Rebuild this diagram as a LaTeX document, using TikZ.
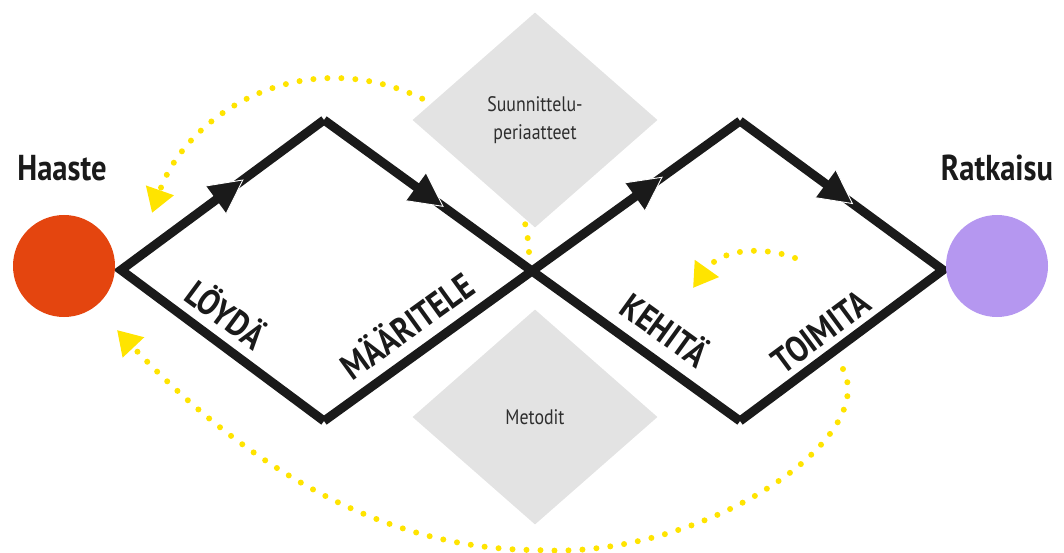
\documentclass[tikz,border=0pt]{standalone}
\usepackage{fontspec}
\setmainfont{PT Sans}
\newfontfamily\condfont[FakeStretch=0.85]{PT Sans}
\usetikzlibrary{shapes.geometric,arrows.meta,decorations.markings}

\definecolor{flowblack}{HTML}{1A1A1A}
\definecolor{loopyellow}{HTML}{FFE400}
\definecolor{panelgray}{HTML}{E3E3E3}
\definecolor{paneltext}{HTML}{2E2E2E}
\definecolor{startred}{HTML}{E4450F}
\definecolor{endviolet}{HTML}{B597F0}

\begin{document}
\begin{tikzpicture}[x=1pt,y=-1pt,
  flow/.style={draw=flowblack, line width=9pt, line cap=butt, line join=miter},
  flowtip/.style={decoration={markings, mark=at position #1 with {
      \fill[flowblack] (0,0) -- (-33,17) -- (-33,-17) -- cycle;
      \draw[white, line width=0.9pt] (-33,17) -- (0,0) -- (-33,-17);}},
    decorate},
  feedback/.style={draw=loopyellow, line width=6pt, line cap=round,
    dash pattern=on 0pt off 14pt, -{Triangle[length=24pt,width=28pt]}},
  panel/.style={diamond, fill=panelgray, minimum width=245pt, minimum height=215pt,
    inner sep=0pt, align=center, text=paneltext,
    font=\condfont\fontsize{21}{28}\selectfont},
  endpoint/.style={circle, minimum size=102pt, inner sep=0pt},
  title/.style={font=\condfont\bfseries\fontsize{36}{40}\selectfont, text=flowblack, inner sep=0pt},
  phase/.style={font=\condfont\bfseries\fontsize{36}{38}\selectfont, text=flowblack, inner sep=0pt}
]
\useasboundingbox (0,0) rectangle (1064,553);

% corners of the double diamond
\coordinate (L)  at (121,270);
\coordinate (T1) at (324,120);
\coordinate (C)  at (532,271);
\coordinate (B1) at (324,421);
\coordinate (T2) at (740,121);
\coordinate (B2) at (740,421);
\coordinate (R)  at (943,270);

% ends of the feedback loops
\coordinate (fbTopStart)   at (529,252);
\coordinate (fbTopPeak)    at (334,78);
\coordinate (fbTopEnd)     at (152,213);
\coordinate (fbLowStart)   at (843,369);
\coordinate (fbLowMid)     at (537,550);
\coordinate (fbLowEnd)     at (117,330);
\coordinate (fbSmallStart) at (795,258);
\coordinate (fbSmallEnd)   at (693,288);

% dotted feedback loops
\draw[feedback] (fbTopStart) .. controls (524,153) and (432,78) .. (fbTopPeak)
                             .. controls (250,78) and (180,133) .. (fbTopEnd);
\draw[feedback] (fbLowStart) .. controls (880,440) and (700,560) .. (fbLowMid)
                             .. controls (370,550) and (230,450) .. (fbLowEnd);
\draw[feedback] (fbSmallStart) .. controls (760,245) and (720,250) .. (fbSmallEnd);

% grey panels
\node[panel] (principles) at (535,120) {Suunnittelu-\\periaatteet};
\node[panel] (methods) at (535,417) {Metodit};

% double diamond
\draw[flow] (T1) -- (L) -- (B1);
\draw[flow] (T2) -- (R) -- (B2);
\draw[flow] (B1) -- (C) -- (T2);
\draw[flow] (T1) -- (C) -- (B2);
\path[flowtip=0.6]   (L)  -- (T1);
\path[flowtip=0.572] (T1) -- (C);
\path[flowtip=0.625] (C)  -- (T2);
\path[flowtip=0.554] (T2) -- (R);

% start and end
\node[endpoint, fill=startred]  (challenge) at (64,266) {};
\node[endpoint, fill=endviolet] (solution)  at (997,266) {};
\node[title] (challengeLabel) at (62,168) {Haaste};
\node[title] (solutionLabel)  at (997,168) {Ratkaisu};

% phase labels
\node[phase, rotate=-36.5] (discover) at (227,313) {LÖYDÄ};
\node[phase, rotate=35.8]  (define)   at (406,324) {MÄÄRITELE};
\node[phase, rotate=-35.8] (develop)  at (666,328) {KEHITÄ};
\node[phase, rotate=36.5]  (deliver)  at (821,332) {TOIMITA};
\end{tikzpicture}
\end{document}
